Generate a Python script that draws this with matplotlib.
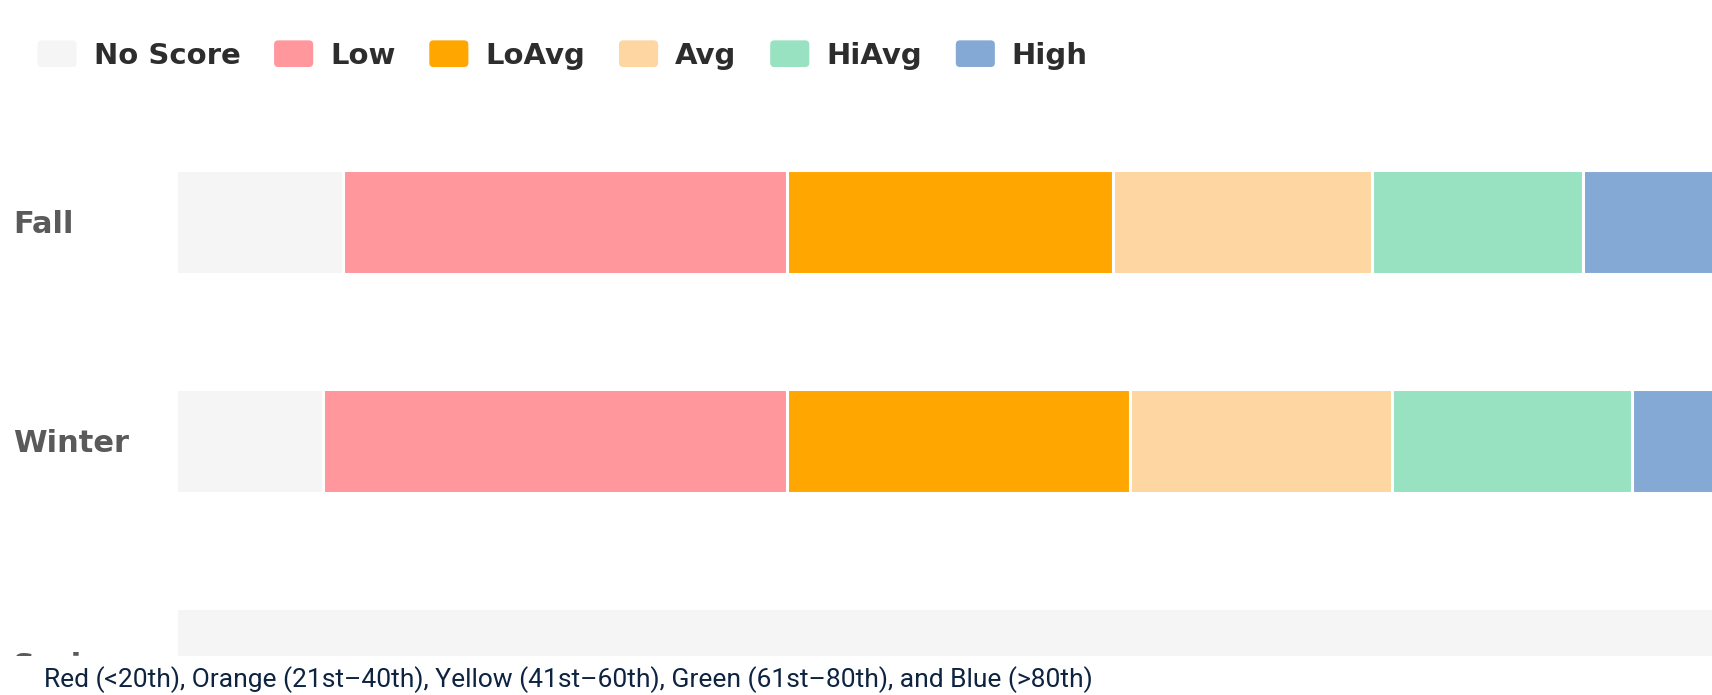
import matplotlib as mpl
mpl.use("Agg")
import matplotlib.pyplot as plt
import matplotlib.transforms as mtransforms
import numpy as np
from matplotlib.patches import Patch, Rectangle, FancyBboxPatch
from matplotlib.legend_handler import HandlerPatch

# percent of students in each band per season (bars run past the crop on the right)
seasons = ["Fall", "Winter", "Spring"]
bands = ["No Score", "Low", "LoAvg", "Avg", "HiAvg", "High"]
no_score = [9.9, 8.7, 100.0]
low = [26.2, 27.4, 0.0]
lo_avg = [19.3, 20.3, 0.0]
avg = [15.3, 15.5, 0.0]
hi_avg = [12.5, 14.2, 0.0]
high = [16.8, 13.9, 0.0]

colors = ["#f5f5f5", "#ff979c", "#ffa600", "#fdd6a1", "#98e2c2", "#85a9d5"]
caption = "Red (<20th), Orange (21st\u201340th), Yellow (41st\u201360th), Green (61st\u201380th), and Blue (>80th)"

W, H = 1712, 695
fig = plt.figure(figsize=(W / 100, H / 100), dpi=100)
fig.patch.set_facecolor("white")
ax = fig.add_axes([176 / W, 0, 1 - 176 / W, 1])
ax.set_facecolor("none")

y = np.arange(len(seasons))
left = np.zeros(len(seasons))
for vals, c, name in zip([no_score, low, lo_avg, avg, hi_avg, high], colors, bands):
    ax.barh(y, vals, left=left, height=0.475, color=c, edgecolor="white", linewidth=2.2, label=name)
    left += np.array(vals)

ax.set_xlim(0, 90.8)
ax.set_ylim(2.16, -1.0137)
ax.set_xticks([])
ax.set_yticks(y, seasons)
ax.tick_params(axis="y", length=0, pad=(176 - 13) * 0.72)
for lab in ax.get_yticklabels():
    lab.set_ha("left")
    lab.set_fontsize(22)
    lab.set_fontweight("bold")
    lab.set_color("#5a5a5a")
# the Spring label sits a little lower and is mostly hidden under the caption strip
spring = ax.get_yticklabels()[2]
spring.set_transform(spring.get_transform() + mtransforms.ScaledTranslation(0, -4 / 100, fig.dpi_scale_trans))
for s in ax.spines.values():
    s.set_visible(False)


def rounded(legend, orig_handle, xdescent, ydescent, width, height, fontsize):
    return FancyBboxPatch((-xdescent, -ydescent), width, height,
                          boxstyle="round,pad=0,rounding_size=3")


handles = [Patch(facecolor=c, edgecolor="none") for c in colors]
leg = fig.legend(handles, bands, loc="center left", bbox_to_anchor=(37.5 / W, 1 - 55 / H),
                 ncol=6, frameon=False, borderpad=0, borderaxespad=0,
                 prop={"family": "DejaVu Sans", "weight": "bold", "size": 21},
                 handlelength=1.34, handleheight=1.03, handletextpad=0.58, columnspacing=1.16,
                 handler_map={Patch: HandlerPatch(patch_func=rounded)})
for t in leg.get_texts():
    t.set_color("#2d2d2d")

# white strip with the caption, covering the bottom of the chart
fig.patches.append(Rectangle((0, 0), 1, 39 / H, transform=fig.transFigure,
                             facecolor="white", edgecolor="none", zorder=5))
fig.text(44 / W, 8 / H, caption, family="Roboto", fontsize=19.0, color="#0d2340",
         va="baseline", ha="left", zorder=6)

fig.savefig("out.png", dpi=100)
